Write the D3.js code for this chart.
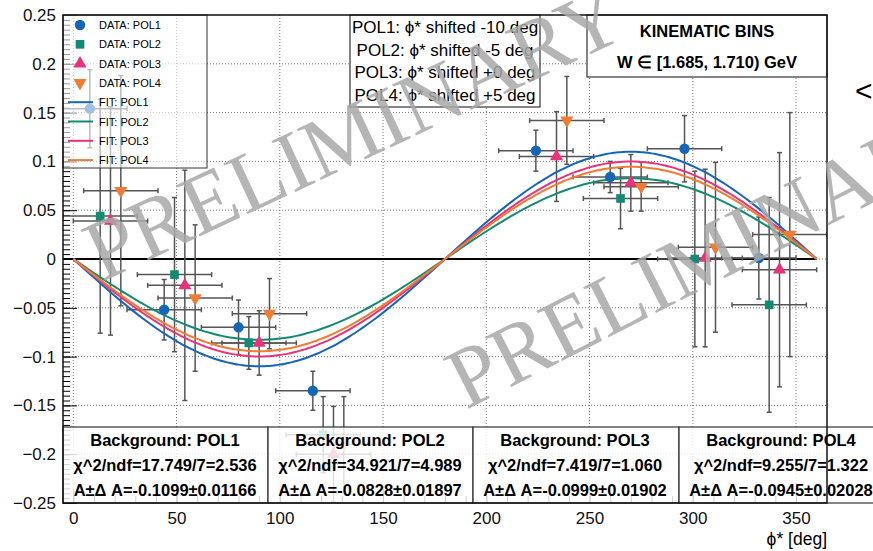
<!DOCTYPE html>
<html>
<head>
<meta charset="utf-8">
<script src="https://cdn.jsdelivr.net/npm/d3@7"></script>
<style>
  body { margin: 0; background: #fff; }
  svg { font-family: "Liberation Sans", Arial, Helvetica, sans-serif; }
</style>
</head>
<body>
<svg class="chart" width="873" height="551"></svg>
<script>
// measured points, phi already shifted per polarisation
const series = ['POL1', 'POL2', 'POL3', 'POL4']
const colors = ['#1565b8', '#138a72', '#e8327a', '#f07c33']
const symbols = [d3.symbolCircle, d3.symbolSquare, d3.symbolTriangle, d3.symbolTriangle]
const shiftLines = ['POL1: \u03d5* shifted -10 deg', 'POL2: \u03d5* shifted -5 deg',
  'POL3: \u03d5* shifted +0 deg', 'POL4: \u03d5* shifted +5 deg']

const pol1Phi = [8, 44, 80, 116, 224, 260, 296, 332]
const pol1Val = [0.154, -0.052, -0.070, -0.135, 0.111, 0.084, 0.113, 0.001]
const pol1Err = [0.040, 0.031, 0.028, 0.020, 0.021, 0.016, 0.034, 0.042]

const pol2Phi = [13, 49, 85, 121, 265, 301, 337]
const pol2Val = [0.044, -0.016, -0.086, -0.180, 0.062, 0.000, -0.047]
const pol2Err = [0.120, 0.079, 0.027, 0.039, 0.031, 0.090, 0.110]

const pol3Phi = [18, 54, 90, 126, 234, 270, 306, 342]
const pol3Val = [0.039, -0.027, -0.086, -0.200, 0.105, 0.078, 0.001, -0.011]
const pol3Err = [0.117, 0.118, 0.033, 0.049, 0.046, 0.029, 0.091, 0.120]

const pol4Phi = [23, 59, 95, 131, 239, 275, 311, 347]
const pol4Val = [0.070, -0.040, -0.056, -0.190, 0.142, 0.074, 0.012, 0.025]
const pol4Err = [0.118, 0.075, 0.036, 0.049, 0.045, 0.025, 0.087, 0.125]

const binHalfWidth = 18

// fit results  A*sin(phi)
const fitA = [-0.1099, -0.0828, -0.0999, -0.0945]
const fitAErr = ['0.01166', '0.01897', '0.01902', '0.02028']
const chi2 = ['17.749', '34.921', '7.419', '9.255']
const chi2Ndf = ['2.536', '4.989', '1.060', '1.322']
const ndf = 7

const xTicks = [0, 50, 100, 150, 200, 250, 300, 350]
const yTicks = [-0.25, -0.2, -0.15, -0.1, -0.05, 0, 0.05, 0.1, 0.15, 0.2, 0.25]

const points = [
  [pol1Phi, pol1Val, pol1Err],
  [pol2Phi, pol2Val, pol2Err],
  [pol3Phi, pol3Val, pol3Err],
  [pol4Phi, pol4Val, pol4Err],
].map(([phi, val, err], s) => phi.map((p, i) => ({ s, phi: p, val: val[i], err: err[i] })))

const frameL = 63
const frameR = 827
const frameT = 15
const frameB = 503

const x = d3.scaleLinear().domain([-5, 365]).range([frameL, frameR])
const y = d3.scaleLinear().domain([-0.25, 0.25]).range([frameB, frameT])

const chart = d3.select('.chart')

chart.append('clipPath').attr('id', 'frame')
  .append('rect')
  .attr('x', frameL).attr('y', frameT)
  .attr('width', frameR - frameL).attr('height', frameB - frameT)

// grid
const grid = chart.append('g').attr('stroke', '#777').attr('stroke-dasharray', '1,2').attr('stroke-width', 1)
grid.selectAll('.gx').data(xTicks).enter().append('line')
  .attr('x1', d => x(d)).attr('x2', d => x(d))
  .attr('y1', frameT).attr('y2', frameB)
grid.selectAll('.gy').data(yTicks.slice(1, -1)).enter().append('line')
  .attr('x1', frameL).attr('x2', frameR)
  .attr('y1', d => y(d)).attr('y2', d => y(d))

// inner ticks
chart.append('g').attr('transform', `translate(${frameL},0)`)
  .call(d3.axisRight(y).tickValues(d3.range(-50, 51).map(i => i * 0.005)).tickSize(7).tickFormat(''))
  .call(g => g.select('.domain').remove())
chart.append('g').attr('transform', `translate(${frameL},0)`)
  .call(d3.axisRight(y).tickValues(yTicks).tickSize(14).tickFormat(''))
  .call(g => g.select('.domain').remove())
chart.append('g').attr('transform', `translate(0,${frameB})`)
  .call(d3.axisTop(x).tickValues(d3.range(0, 361, 10)).tickSize(7).tickFormat(''))
  .call(g => g.select('.domain').remove())
chart.append('g').attr('transform', `translate(0,${frameB})`)
  .call(d3.axisTop(x).tickValues(xTicks).tickSize(14).tickFormat(''))
  .call(g => g.select('.domain').remove())

// zero line
chart.append('line')
  .attr('x1', frameL).attr('x2', x(360))
  .attr('y1', y(0)).attr('y2', y(0))
  .attr('stroke', '#000').attr('stroke-width', 2)

// error bars
const plot = chart.append('g').attr('clip-path', 'url(#frame)')
const bars = plot.append('g').attr('stroke', '#555').attr('stroke-width', 1.5)
points.flat().forEach(p => {
  const cx = x(p.phi)
  const cy = y(p.val)
  const x0 = x(p.phi - binHalfWidth)
  const x1 = x(p.phi + binHalfWidth)
  const y0 = y(p.val - p.err)
  const y1 = y(p.val + p.err)
  bars.append('line').attr('x1', x0).attr('x2', x1).attr('y1', cy).attr('y2', cy)
  bars.append('line').attr('x1', cx).attr('x2', cx).attr('y1', y0).attr('y2', y1)
  bars.append('line').attr('x1', x0).attr('x2', x0).attr('y1', cy - 2.5).attr('y2', cy + 2.5)
  bars.append('line').attr('x1', x1).attr('x2', x1).attr('y1', cy - 2.5).attr('y2', cy + 2.5)
  bars.append('line').attr('x1', cx - 2.5).attr('x2', cx + 2.5).attr('y1', y0).attr('y2', y0)
  bars.append('line').attr('x1', cx - 2.5).attr('x2', cx + 2.5).attr('y1', y1).attr('y2', y1)
})

// fit curves
const curvePhi = d3.range(0, 361, 2)
fitA.forEach((a, s) => {
  plot.append('path')
    .datum(curvePhi)
    .attr('fill', 'none')
    .attr('stroke', colors[s])
    .attr('stroke-width', 2)
    .attr('d', d3.line()
      .x(d => x(d))
      .y(d => y(a * Math.sin(d * Math.PI / 180)))
      .curve(d3.curveMonotoneX))
})

// markers
const markerPath = s => d3.symbol().type(symbols[s]).size(s === 0 ? 85 : 75)()
plot.append('g').selectAll('path')
  .data(points.flat())
  .enter()
  .append('path')
  .attr('transform', p => `translate(${x(p.phi)},${y(p.val)})${p.s === 3 ? ' rotate(180)' : ''}`)
  .attr('d', p => markerPath(p.s))
  .attr('fill', p => colors[p.s])

// legend
const legend = chart.append('g')
legend.append('rect')
  .attr('x', frameL).attr('y', frameT).attr('width', 144).attr('height', 153)
  .attr('fill', '#fff').attr('fill-opacity', 0.6)
  .attr('stroke', '#333').attr('stroke-width', 1)
series.forEach((name, s) => {
  const ry = 25 + s * 19.3
  legend.append('path')
    .attr('transform', `translate(80,${ry})${s === 3 ? ' rotate(180)' : ''}`)
    .attr('d', markerPath(s))
    .attr('fill', colors[s])
  legend.append('text').attr('x', 99).attr('y', ry + 4).attr('font-size', 11).text(`DATA: ${name}`)
  const ly = 25 + (s + 4) * 19.3
  legend.append('line').attr('x1', 68).attr('x2', 93).attr('y1', ly).attr('y2', ly)
    .attr('stroke', colors[s]).attr('stroke-width', 2)
  legend.append('text').attr('x', 99).attr('y', ly + 4).attr('font-size', 11).text(`FIT: ${name}`)
})

// shift box
const shiftBox = chart.append('g')
shiftBox.append('rect')
  .attr('x', 350).attr('y', frameT).attr('width', 190).attr('height', 92)
  .attr('fill', '#fff').attr('stroke', '#333').attr('stroke-width', 1.2)
shiftBox.selectAll('text').data(shiftLines).enter().append('text')
  .attr('x', 445).attr('y', (d, i) => 33 + i * 22.7)
  .attr('text-anchor', 'middle').attr('font-size', 17)
  .text(d => d)

// kinematic box
const kin = chart.append('g')
kin.append('rect')
  .attr('x', 587).attr('y', frameT).attr('width', frameR - 587).attr('height', 62)
  .attr('fill', '#fff').attr('stroke', '#333').attr('stroke-width', 1.2)
kin.append('text').attr('x', 707).attr('y', 37).attr('text-anchor', 'middle')
  .attr('font-size', 16.5).attr('font-weight', 'bold').text('KINEMATIC BINS')
kin.append('text').attr('x', 707).attr('y', 68).attr('text-anchor', 'middle')
  .attr('font-size', 16.5).attr('font-weight', 'bold').text('W \u2208 [1.685, 1.710) GeV')

// background boxes
const boxEdges = [frameL, 268, 473, 679, 885]
series.forEach((name, s) => {
  const bx = boxEdges[s]
  const bw = boxEdges[s + 1] - bx
  const g = chart.append('g')
  g.append('rect')
    .attr('x', bx).attr('y', 427).attr('width', bw).attr('height', frameB - 427)
    .attr('fill', '#fff').attr('fill-opacity', 0.82)
    .attr('stroke', '#333').attr('stroke-width', 1.2)
  const lines = [
    `Background: ${name}`,
    `\u03c7^2/ndf=${chi2[s]}/${ndf}=${chi2Ndf[s]}`,
    `A\u00b1\u0394 A=${fitA[s]}\u00b1${fitAErr[s]}`,
  ]
  g.selectAll('text').data(lines).enter().append('text')
    .attr('x', bx + 102).attr('y', (d, i) => 446 + i * 25)
    .attr('text-anchor', 'middle')
    .attr('font-size', 16.5).attr('font-weight', 'bold')
    .text(d => d)
})

// frame
chart.append('rect')
  .attr('x', frameL).attr('y', frameT).attr('width', frameR - frameL).attr('height', frameB - frameT)
  .attr('fill', 'none').attr('stroke', '#111').attr('stroke-width', 1.5)

// axis labels
chart.append('g').attr('transform', `translate(${frameL},0)`)
  .call(d3.axisLeft(y).tickValues(yTicks).tickSize(0).tickPadding(7).tickFormat(d3.format('~g')))
  .call(g => g.select('.domain').remove())
  .call(g => g.selectAll('text').attr('font-size', 17).attr('fill', '#111')
    .attr('font-family', '"Liberation Sans", Arial, sans-serif'))
chart.append('g').attr('transform', `translate(0,${frameB})`)
  .call(d3.axisBottom(x).tickValues(xTicks).tickSize(0).tickPadding(9))
  .call(g => g.select('.domain').remove())
  .call(g => g.selectAll('text').attr('font-size', 17).attr('fill', '#111')
    .attr('font-family', '"Liberation Sans", Arial, sans-serif'))
chart.append('text').attr('x', frameR).attr('y', 545).attr('text-anchor', 'end')
  .attr('font-size', 17.5).text('\u03d5* [deg]')

chart.append('text').attr('x', 855).attr('y', 101).attr('font-size', 30).text('<')

// watermark
const mark = chart.append('g')
  .attr('font-family', '"Liberation Serif", "Times New Roman", serif')
  .attr('font-size', 86).attr('fill', '#a8a8a8').attr('fill-opacity', 0.85)
mark.append('text').attr('transform', 'translate(102,282) rotate(-25)').text('PRELIMINARY')
mark.append('text').attr('transform', 'translate(466,410) rotate(-27)').text('PRELIMINARY')
</script>
</body>
</html>
